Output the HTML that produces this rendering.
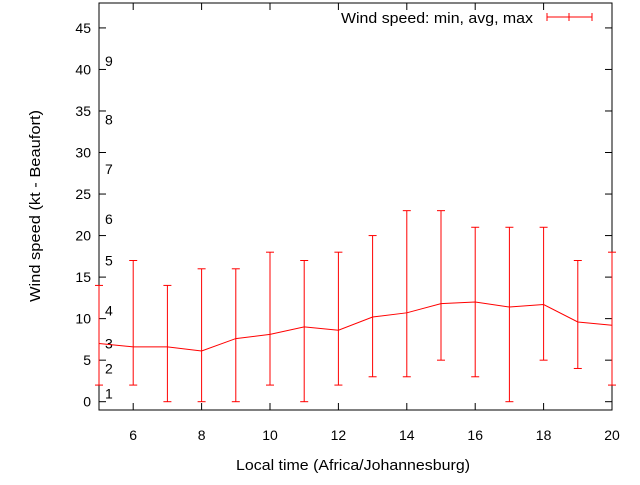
<!DOCTYPE html>
<html><head><meta charset="utf-8"><style>
body{margin:0;background:#fff}
svg text{font-family:"Liberation Sans",sans-serif;font-size:14px;fill:#000}
</style></head><body>
<svg id="c" width="640" height="480" xmlns="http://www.w3.org/2000/svg"></svg>
<script>
const hours=[5,6,7,8,9,10,11,12,13,14,15,16,17,18,19,20];
const minV=[2,2,0,0,0,2,0,2,3,3,5,3,0,5,4,2];
const avgV=[7,6.6,6.6,6.1,7.6,8.1,9,8.6,10.2,10.7,11.8,12,11.4,11.7,9.6,9.2];
const maxV=[14,17,14,16,16,18,17,18,20,23,23,21,21,21,17,18];
const xTicks=[6,8,10,12,14,16,18,20];
const yTicks=[0,5,10,15,20,25,30,35,40,45];
const bfLabels=["1","2","3","4","5","6","7","8","9"];
const bfVals=[1,4,7,11,17,22,28,34,41];
const L=99,R=612,T=3,B=410,X0=5,X1=20,Y0=-1,Y1=48;
const sx=v=>L+(v-X0)/(X1-X0)*(R-L);
const sy=v=>B-(v-Y0)/(Y1-Y0)*(B-T);
const svg=document.getElementById('c');
const NS="http://www.w3.org/2000/svg";
function mk(t,a,name,txt){const e=document.createElementNS(NS,t);for(const k in a)e.setAttribute(k,a[k]);


if(txt!==undefined)e.textContent=txt;svg.appendChild(e);return e;}
mk('rect',{x:L,y:T,width:R-L,height:B-T,fill:'none',stroke:'#000','stroke-width':1},'plot-frame');
yTicks.forEach(v=>{const y=sy(v);
mk('line',{x1:L,y1:y,x2:L+7,y2:y,stroke:'#000'},'y-tick');
mk('line',{x1:R,y1:y,x2:R-7,y2:y,stroke:'#000'},'y-tick-right');
mk('text',{x:L-8,y:y+5,'text-anchor':'end'},'y-tick-label',String(v));});
xTicks.forEach(v=>{const x=sx(v);
mk('line',{x1:x,y1:B,x2:x,y2:B-7,stroke:'#000'},'x-tick');
mk('line',{x1:x,y1:T,x2:x,y2:T+7,stroke:'#000'},'x-tick-top');
mk('text',{x:x,y:B+30,'text-anchor':'middle'},'x-tick-label',String(v));});
bfVals.forEach((v,i)=>mk('text',{x:105,y:sy(v)+5},'beaufort-label',bfLabels[i]));
mk('text',{x:236,y:470,textLength:234,lengthAdjust:'spacingAndGlyphs',style:'font-size:15px'},'x-axis-title','Local time (Africa/Johannesburg)');
mk('text',{x:40,y:302,textLength:192,lengthAdjust:'spacingAndGlyphs',style:'font-size:15px',transform:'rotate(-90 40 302)'},'y-axis-title','Wind speed (kt - Beaufort)');
hours.forEach((h,i)=>{const x=sx(h);
mk('line',{x1:x,y1:sy(minV[i]),x2:x,y2:sy(maxV[i]),stroke:'red'},'error-bar');
mk('line',{x1:x-4,y1:sy(minV[i]),x2:x+4,y2:sy(minV[i]),stroke:'red'},'error-min-cap');
mk('line',{x1:x-4,y1:sy(maxV[i]),x2:x+4,y2:sy(maxV[i]),stroke:'red'},'error-max-cap');});
mk('polyline',{points:hours.map((h,i)=>sx(h)+','+sy(avgV[i])).join(' '),fill:'none',stroke:'red'},'avg-line');
mk('text',{x:341,y:23,textLength:192,lengthAdjust:'spacingAndGlyphs',style:'font-size:15px'},'legend-label','Wind speed: min, avg, max');
mk('line',{x1:547,y1:17,x2:592,y2:17,stroke:'red'},'legend-line');
[547,569,592].forEach(x=>mk('line',{x1:x,y1:13,x2:x,y2:21,stroke:'red'},'legend-cap'));
</script>
</body></html>
